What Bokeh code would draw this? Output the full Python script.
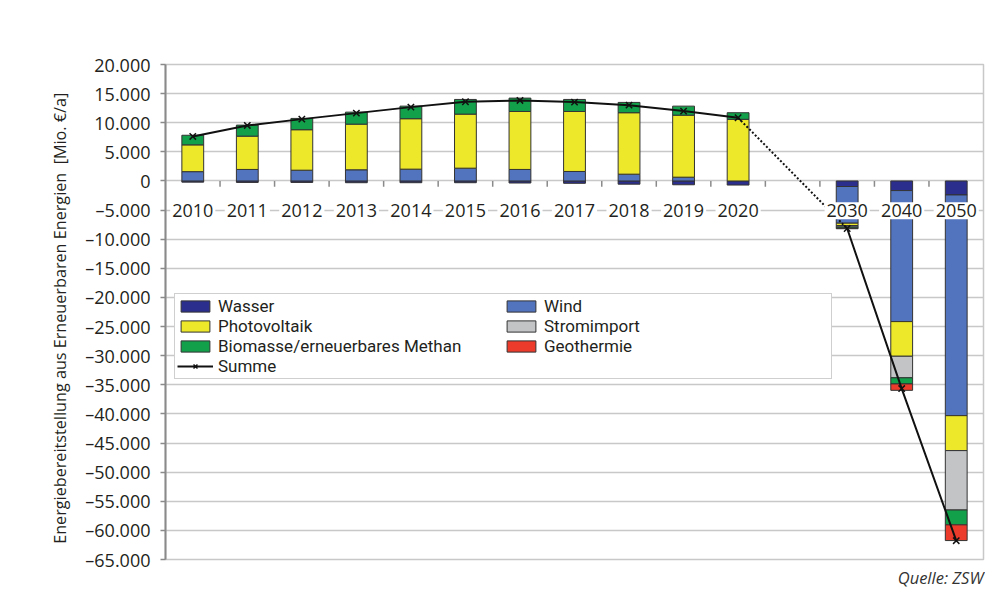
import numpy as np
from bokeh.plotting import figure
from bokeh.models import (FactorRange, Range1d, FixedTicker, ColumnDataSource,
                          Legend, LegendItem, Title)
from bokeh.transform import dodge
from bokeh.core.properties import value
from bokeh.embed import file_html
from bokeh.resources import INLINE

# ---------------- data ----------------
YEARS = ["2010", "2011", "2012", "2013", "2014", "2015", "2016", "2017", "2018",
         "2019", "2020", "2030", "2040", "2050"]
GAP = " "  # empty slot between 2020 and 2030

WASSER = [-200, -250, -250, -300, -300, -300, -350, -400, -550, -650, -700,
          -950, -1650, -2400]
WIND = [1600, 1980, 1850, 1920, 2030, 2200, 1980, 1630, 1170, 650, 0,
        -6300, -22500, -37900]
PHOTOVOLTAIK = [4600, 5720, 6950, 7840, 8660, 9280, 9960, 10310, 10550, 10650, 10590,
                -400, -5950, -6000]
STROMIMPORT = [0, 0, 0, 0, 0, 0, 0, 0, 0, 0, 0,
               -250, -3700, -10200]
BIOMASSE = [1650, 1890, 1940, 2060, 2160, 2520, 2290, 2060, 1770, 1550, 1130,
            -200, -1050, -2550]
GEOTHERMIE = [0, 0, 0, 0, 0, 0, 0, 0, 0, 0, 0,
              -100, -1100, -2700]
SUMME = [7650, 9530, 10620, 11650, 12680, 13600, 13830, 13540, 13020, 12000, 10860,
         -8160, -35650, -61770]

SERIES_NAMES = ["Wasser", "Wind", "Photovoltaik", "Stromimport",
                "Biomasse/erneuerbares Methan", "Geothermie"]
SERIES_VALUES = [WASSER, WIND, PHOTOVOLTAIK, STROMIMPORT, BIOMASSE, GEOTHERMIE]
COLORS = ["#2B2E8C", "#5273BE", "#EDE829", "#C2C4C6", "#12A04A", "#EC3B2B"]

Y_TICKS = [-65000, -60000, -55000, -50000, -45000, -40000, -35000, -30000, -25000,
           -20000, -15000, -10000, -5000, 0, 5000, 10000, 15000, 20000]
Y_TICK_LABELS = ["–65.000", "–60.000", "–55.000", "–50.000", "–45.000", "–40.000",
                 "–35.000", "–30.000", "–25.000", "–20.000", "–15.000", "–10.000",
                 "–5.000", "0", "5.000", "10.000", "15.000", "20.000"]
Y_LABEL = "Energiebereitstellung aus Erneuerbaren Energien\u00a0 [Mio. €/a]\u00a0\u00a0\u00a0"
SOURCE_TEXT = "Quelle: ZSW"

FACTORS = YEARS[:11] + [GAP] + YEARS[11:]

# ---------------- style ----------------
FONT = "Open Sans"
LEGEND_FONT = "Roboto"
TEXT_COLOR = "#231F20"
GRID_COLOR = "#C8C8C8"
LABEL_Y = -5100
TICK_LEN = 1000

p = figure(width=985, height=600,
           x_range=FactorRange(factors=FACTORS),
           y_range=Range1d(-65000, 20000),
           output_backend="svg", toolbar_location=None,
           x_axis_location=None,
           min_border_left=165, min_border_right=2,
           min_border_top=64, min_border_bottom=41)

p.background_fill_color = "white"
p.border_fill_color = "white"
p.outline_line_color = GRID_COLOR
p.outline_line_width = 1.5

p.xgrid.visible = False
p.ygrid.ticker = FixedTicker(ticks=Y_TICKS)
p.ygrid.grid_line_color = GRID_COLOR
p.ygrid.grid_line_width = 1.5

yax = p.yaxis[0]
yax.ticker = FixedTicker(ticks=Y_TICKS)
yax.major_label_overrides = {float(t): s for t, s in zip(Y_TICKS, Y_TICK_LABELS)}
yax.axis_line_color = "#8A8A8A"
yax.axis_line_width = 2
yax.major_tick_line_color = "#8A8A8A"
yax.major_tick_line_width = 1.5
yax.major_tick_out = 5
yax.major_tick_in = 0
yax.minor_tick_line_color = None
yax.major_label_standoff = 10
yax.major_label_text_font = FONT
yax.major_label_text_font_size = "18px"
yax.major_label_text_color = TEXT_COLOR
yax.axis_label = Y_LABEL
yax.axis_label_text_font = FONT
yax.axis_label_text_font_size = "16.2px"
yax.axis_label_text_font_style = "normal"
yax.axis_label_text_color = TEXT_COLOR
yax.axis_label_standoff = 11

# ---------------- stacked bars (positive / negative stacks) ----------------
n = len(YEARS)
pos_base = np.zeros(n)
neg_base = np.zeros(n)
bar_renderers = {}
for name, vals, col in zip(SERIES_NAMES, SERIES_VALUES, COLORS):
    v = np.array(vals, dtype=float)
    bottom = np.where(v >= 0, pos_base, neg_base)
    top = bottom + v
    pos_base = pos_base + np.where(v > 0, v, 0)
    neg_base = neg_base + np.where(v < 0, v, 0)
    mask = v != 0
    src = ColumnDataSource(dict(x=[y for y, m in zip(YEARS, mask) if m],
                                bottom=bottom[mask], top=top[mask]))
    r = p.vbar(x="x", bottom="bottom", top="top", width=0.4, source=src,
               fill_color=col, line_color="#333333", line_width=1)
    bar_renderers[name] = r

# ---------------- category tick marks on the zero line ----------------
tick_src = ColumnDataSource(dict(x=FACTORS[:-1]))
p.segment(x0=dodge("x", 0.5, range=p.x_range), y0=0,
          x1=dodge("x", 0.5, range=p.x_range), y1=-TICK_LEN,
          source=tick_src, line_color="#8A8A8A", line_width=1.5)

# ---------------- Summe line ----------------
l1 = p.line(YEARS[:11], SUMME[:11], line_color="#111111", line_width=2)
p.line([YEARS[10], YEARS[11]], [SUMME[10], SUMME[11]], line_color="#111111",
       line_width=2, line_dash="2 2")
p.line(YEARS[11:], SUMME[11:], line_color="#111111", line_width=2)
mk = p.scatter(YEARS, SUMME, marker="x", size=9, line_color="#111111", line_width=1.5)

# ---------------- category labels ----------------
p.text(x=YEARS, y=[LABEL_Y] * n, text=YEARS,
       text_font=value(FONT), text_font_size="18px", text_color=TEXT_COLOR,
       text_align="center", text_baseline="middle",
       background_fill_color="white", padding=2)

# ---------------- legend ----------------
order = ["Wasser", "Wind", "Photovoltaik", "Stromimport",
         "Biomasse/erneuerbares Methan", "Geothermie"]
items = [LegendItem(label=nm, renderers=[bar_renderers[nm]]) for nm in order]
items.append(LegendItem(label="Summe", renderers=[l1, mk]))
legend = Legend(items=items, location=(9, 180), orientation="horizontal", ncols=2,
                border_line_color="#A0A0A0", border_line_width=1.5,
                background_fill_color="white", background_fill_alpha=1,
                label_text_font=LEGEND_FONT, label_text_font_size="17px",
                label_text_color=TEXT_COLOR,
                glyph_width=36, glyph_height=14, label_standoff=5,
                label_width=285, padding=2, spacing=0, margin=0)
p.add_layout(legend)

# ---------------- source note ----------------
p.add_layout(Title(text=SOURCE_TEXT, align="right", vertical_align="bottom",
                   text_font=FONT, text_font_style="italic", text_font_size="16.5px",
                   text_color="#333333", standoff=8), "below")

open("out.html", "w").write(file_html(p, INLINE))
